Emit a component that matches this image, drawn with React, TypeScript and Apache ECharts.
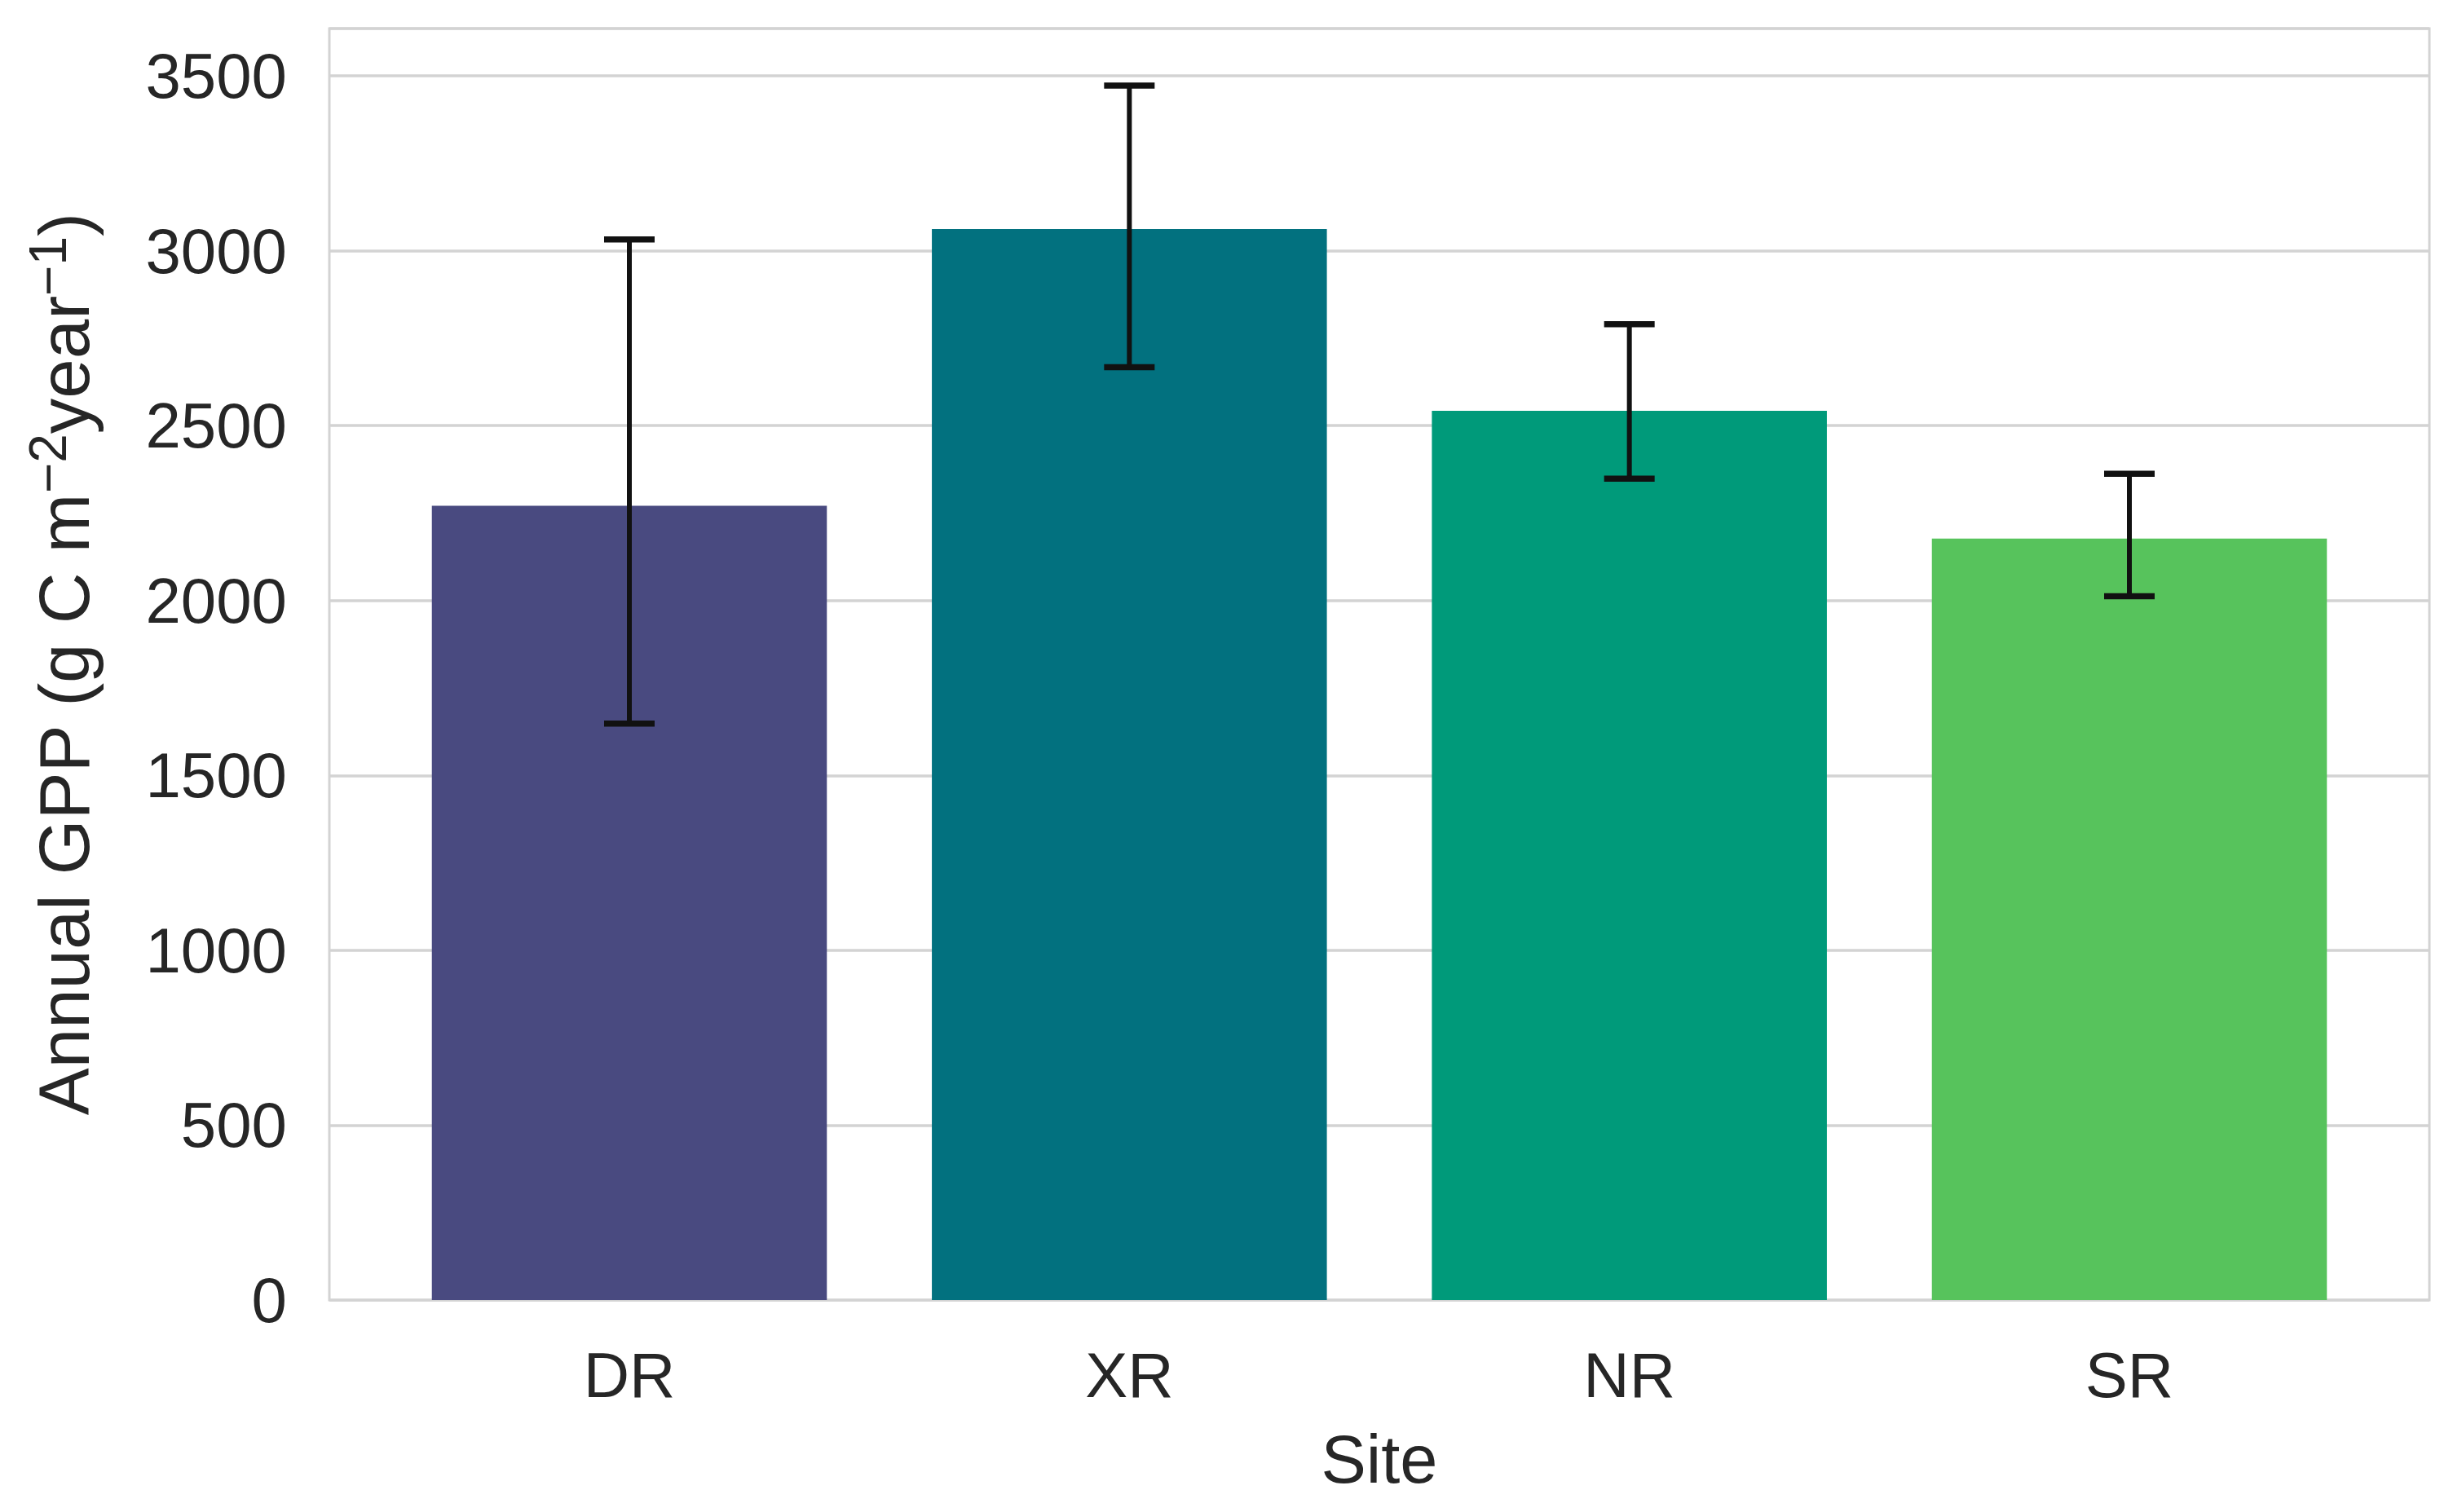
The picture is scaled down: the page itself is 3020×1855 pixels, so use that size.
import React, { useEffect, useRef } from "react";
import * as echarts from "echarts";

const categories = ["DR", "XR", "NR", "SR"];
const gppMean = [2271, 3062, 2542, 2177];
const ciLow = [1648, 2667, 2348, 2012];
const ciHigh = [3032, 3472, 2790, 2362];
const barColors = ["#494A80", "#02717F", "#009A7A", "#57C35C"];
const yTicks = [0, 500, 1000, 1500, 2000, 2500, 3000, 3500];
const xPositions = [0, 1, 2, 3];

const FONT = "'Liberation Sans', Arial, Helvetica, sans-serif";
const TXT = "#262626";
const GRID = "#d3d3d3";

export default function App() {
  const ref = useRef<HTMLDivElement>(null);
  useEffect(() => {
    if (!ref.current) return;
    const chart = echarts.init(ref.current, undefined, { renderer: "svg" });
    const option = {
      animation: false,
      backgroundColor: "#ffffff",
      textStyle: { fontFamily: FONT },
      grid: {
        left: 404,
        right: 40,
        top: 35,
        bottom: 260,
        show: true,
        borderColor: GRID,
        borderWidth: 3,
        containLabel: false,
      },
      xAxis: {
        type: "value",
        min: -0.6,
        max: 3.6,
        name: "Site",
        nameLocation: "middle",
        nameGap: 154,
        nameTextStyle: { fontSize: 83, color: TXT, fontFamily: FONT },
        axisLine: { show: false },
        axisTick: { show: false },
        splitLine: { show: false },
        axisLabel: {
          fontSize: 78,
          color: TXT,
          margin: 53,
          fontFamily: FONT,
          customValues: xPositions,
          formatter: (v: number) => categories[Math.round(v)] ?? "",
        },
      },
      yAxis: {
        type: "value",
        min: 0,
        max: 3635,
        interval: 500,
        name: "{b|Annual GPP (g C m}{sup|−2}{b|year}{sup|−1}{b|)}",
        nameLocation: "middle",
        nameGap: 282,
        nameTextStyle: {
          fontFamily: FONT,
          color: TXT,
          rich: {
            b: { fontSize: 87, lineHeight: 87, verticalAlign: "bottom", color: TXT, fontFamily: FONT },
            sup: { fontSize: 64, lineHeight: 64, padding: [0, 0, 40, 0], color: TXT, fontFamily: FONT },
          },
        },
        axisLine: { show: false },
        axisTick: { show: false },
        splitLine: { show: true, lineStyle: { color: GRID, width: 3.5 } },
        axisLabel: {
          fontSize: 78,
          color: TXT,
          margin: 52,
          fontFamily: FONT,
          showMaxLabel: false,
          formatter: (v: number) => (yTicks.includes(v) ? String(v) : ""),
        },
      },
      series: [
        {
          type: "bar",
          barWidth: "79%",
          data: gppMean.map((v, i) => ({
            value: [xPositions[i], v],
            itemStyle: { color: barColors[i] },
          })),
          z: 2,
        },
        {
          type: "custom",
          z: 5,
          data: categories.map((_, i) => [xPositions[i], ciLow[i], ciHigh[i]]),
          encode: { x: 0, y: [1, 2] },
          renderItem: (params: any, api: any) => {
            const x = api.value(0);
            const lo = api.coord([x, api.value(1)]);
            const hi = api.coord([x, api.value(2)]);
            const half = 31;
            const cap = { stroke: "#111111", lineWidth: 7.5 };
            return {
              type: "group",
              children: [
                { type: "line", shape: { x1: lo[0], y1: lo[1], x2: hi[0], y2: hi[1] }, style: { stroke: "#111111", lineWidth: 6 } },
                { type: "line", shape: { x1: hi[0] - half, y1: hi[1], x2: hi[0] + half, y2: hi[1] }, style: cap },
                { type: "line", shape: { x1: lo[0] - half, y1: lo[1], x2: lo[0] + half, y2: lo[1] }, style: cap },
              ],
            };
          },
        },
      ],
    };
    chart.setOption(option as any);
    return () => chart.dispose();
  }, []);
  return (
    <div
      ref={ref}
      style={{ position: "fixed", left: 0, top: 0, width: 3020, height: 1855, background: "#fff" }}
    />
  );
}
